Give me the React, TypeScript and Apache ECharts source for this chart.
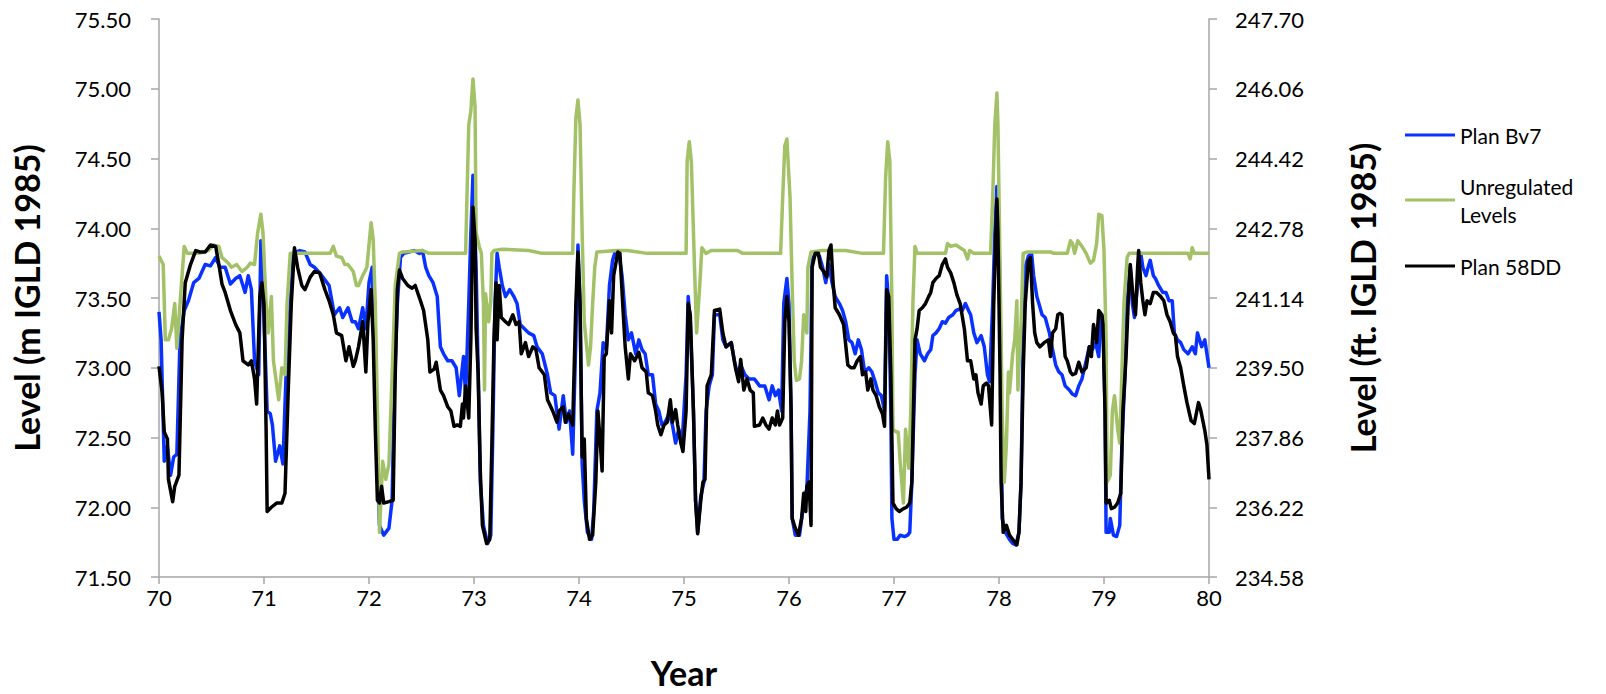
import React, { useEffect, useRef } from "react";
import * as echarts from "echarts";

const FONT = "Lato, 'Open Sans', sans-serif";

const yTicksMetres = [71.5, 72.0, 72.5, 73.0, 73.5, 74.0, 74.5, 75.0, 75.5];
const xTickYears = [70, 71, 72, 73, 74, 75, 76, 77, 78, 79, 80];
const FEET_PER_METRE = 3.28084;

const seriesNames = ["Plan Bv7", "Unregulated Levels", "Plan 58DD"];

const planBv7: [number, number][] = [
  [70.0, 73.4], [70.02, 73.2], [70.05, 72.33], [70.08, 72.44], [70.11, 72.23], [70.14, 72.36], [70.17, 72.38], [70.2, 73.2],
  [70.24, 73.41], [70.28, 73.48], [70.33, 73.61], [70.38, 73.64], [70.44, 73.74], [70.49, 73.73], [70.54, 73.79], [70.58, 73.72],
  [70.63, 73.72], [70.68, 73.6], [70.73, 73.64], [70.77, 73.66], [70.82, 73.54], [70.85, 73.66], [70.88, 73.56], [70.91, 73.05],
  [70.95, 72.95], [70.97, 73.91], [70.99, 73.59], [71.03, 72.69], [71.06, 72.67], [71.08, 72.59], [71.11, 72.33], [71.15, 72.44],
  [71.18, 72.31], [71.21, 72.95], [71.25, 73.46], [71.28, 73.82], [71.34, 73.84], [71.39, 73.83], [71.44, 73.74], [71.48, 73.72],
  [71.53, 73.68], [71.58, 73.63], [71.62, 73.59], [71.67, 73.38], [71.72, 73.43], [71.75, 73.36], [71.8, 73.43], [71.84, 73.33],
  [71.87, 73.33], [71.9, 73.28], [71.94, 73.43], [71.97, 73.28], [72.0, 73.61], [72.03, 73.72], [72.05, 73.2], [72.07, 72.44],
  [72.1, 71.87], [72.14, 71.8], [72.19, 71.85], [72.22, 72.05], [72.24, 72.82], [72.27, 73.46], [72.3, 73.79], [72.33, 73.82],
  [72.38, 73.83], [72.43, 73.84], [72.48, 73.82], [72.51, 73.84], [72.54, 73.72], [72.57, 73.66], [72.61, 73.61], [72.65, 73.51],
  [72.68, 73.15], [72.71, 73.1], [72.75, 73.05], [72.79, 73.05], [72.83, 73.0], [72.86, 72.8], [72.9, 73.08], [72.92, 72.8],
  [72.95, 73.46], [72.97, 73.97], [72.99, 74.38], [73.02, 73.72], [73.04, 72.95], [73.06, 72.18], [73.09, 71.87], [73.13, 71.74],
  [73.16, 71.8], [73.18, 72.56], [73.2, 73.46], [73.22, 73.82], [73.24, 73.72], [73.27, 73.59], [73.3, 73.51], [73.34, 73.56],
  [73.38, 73.51], [73.41, 73.46], [73.44, 73.31], [73.48, 73.28], [73.52, 73.25], [73.57, 73.23], [73.6, 73.15], [73.65, 73.1],
  [73.7, 72.95], [73.73, 72.82], [73.77, 72.8], [73.81, 72.56], [73.85, 72.8], [73.88, 72.61], [73.91, 72.69], [73.94, 72.38],
  [73.97, 73.2], [73.99, 73.88], [74.01, 73.46], [74.03, 72.31], [74.05, 72.05], [74.08, 71.82], [74.12, 71.77], [74.14, 71.97],
  [74.17, 72.69], [74.2, 72.82], [74.23, 73.18], [74.26, 73.13], [74.29, 73.59], [74.32, 73.77], [74.34, 73.82], [74.38, 73.82],
  [74.41, 73.66], [74.44, 73.38], [74.47, 73.2], [74.5, 73.25], [74.54, 73.1], [74.57, 73.2], [74.6, 73.13], [74.63, 73.1],
  [74.66, 72.95], [74.7, 72.95], [74.73, 72.74], [74.76, 72.69], [74.79, 72.59], [74.82, 72.61], [74.86, 72.67], [74.89, 72.59],
  [74.92, 72.46], [74.95, 72.56], [74.98, 72.44], [75.02, 72.95], [75.04, 73.51], [75.06, 73.33], [75.09, 72.69], [75.11, 72.05],
  [75.13, 71.82], [75.16, 72.08], [75.19, 72.18], [75.21, 72.69], [75.24, 72.87], [75.27, 72.95], [75.29, 73.38], [75.34, 73.38],
  [75.37, 73.2], [75.4, 73.15], [75.45, 73.18], [75.48, 73.05], [75.51, 72.95], [75.54, 73.02], [75.58, 72.95], [75.62, 72.92],
  [75.67, 72.92], [75.72, 72.87], [75.77, 72.87], [75.81, 72.77], [75.84, 72.87], [75.87, 72.8], [75.9, 72.84], [75.93, 72.69],
  [75.95, 73.46], [75.98, 73.64], [76.0, 73.46], [76.02, 72.69], [76.03, 71.92], [76.06, 71.8], [76.1, 71.8], [76.13, 71.97],
  [76.15, 72.08], [76.17, 72.13], [76.2, 72.69], [76.22, 73.77], [76.25, 73.82], [76.29, 73.8], [76.32, 73.72], [76.35, 73.61],
  [76.38, 73.74], [76.41, 73.61], [76.44, 73.51], [76.48, 73.46], [76.51, 73.41], [76.54, 73.33], [76.57, 73.2], [76.6, 73.18],
  [76.63, 73.1], [76.66, 73.2], [76.69, 73.13], [76.72, 72.97], [76.76, 73.0], [76.79, 72.97], [76.82, 72.9], [76.85, 72.82],
  [76.88, 72.8], [76.91, 72.69], [76.93, 73.66], [76.95, 73.46], [76.97, 72.69], [76.98, 71.92], [77.0, 71.77], [77.03, 71.77],
  [77.06, 71.8], [77.1, 71.79], [77.13, 71.8], [77.15, 71.82], [77.17, 72.18], [77.2, 72.95], [77.22, 73.2], [77.25, 73.1],
  [77.29, 73.05], [77.32, 73.1], [77.35, 73.13], [77.37, 73.23], [77.4, 73.25], [77.43, 73.28], [77.46, 73.33], [77.49, 73.32],
  [77.52, 73.36], [77.56, 73.38], [77.59, 73.41], [77.62, 73.42], [77.65, 73.41], [77.68, 73.46], [77.71, 73.41], [77.73, 73.38],
  [77.76, 73.25], [77.79, 73.18], [77.83, 73.23], [77.86, 73.15], [77.89, 72.95], [77.91, 72.9], [77.94, 73.46], [77.96, 73.97],
  [77.98, 74.3], [78.0, 73.97], [78.02, 72.95], [78.03, 71.92], [78.06, 71.82], [78.1, 71.77], [78.13, 71.74], [78.16, 71.73],
  [78.19, 71.82], [78.21, 72.18], [78.23, 73.2], [78.25, 73.72], [78.28, 73.8], [78.31, 73.82], [78.33, 73.66], [78.36, 73.51],
  [78.38, 73.46], [78.41, 73.38], [78.44, 73.36], [78.48, 73.25], [78.51, 73.13], [78.54, 73.02], [78.57, 72.97], [78.6, 72.95],
  [78.63, 72.87], [78.67, 72.84], [78.7, 72.81], [78.73, 72.8], [78.76, 72.87], [78.79, 72.92], [78.83, 73.05], [78.86, 73.15],
  [78.89, 73.13], [78.92, 73.18], [78.95, 73.08], [78.97, 73.38], [78.99, 73.36], [79.01, 72.69], [79.02, 71.82], [79.05, 71.82],
  [79.06, 71.92], [79.09, 71.8], [79.12, 71.79], [79.15, 71.87], [79.17, 72.44], [79.2, 72.95], [79.22, 73.46], [79.25, 73.72],
  [79.27, 73.46], [79.29, 73.36], [79.32, 73.59], [79.35, 73.82], [79.37, 73.72], [79.4, 73.66], [79.42, 73.72], [79.44, 73.77],
  [79.47, 73.66], [79.49, 73.64], [79.52, 73.59], [79.56, 73.54], [79.59, 73.54], [79.62, 73.48], [79.65, 73.48], [79.67, 73.25],
  [79.7, 73.2], [79.73, 73.18], [79.76, 73.13], [79.8, 73.1], [79.84, 73.15], [79.87, 73.1], [79.89, 73.25], [79.93, 73.15],
  [79.96, 73.2], [80.0, 73.0],
];

const unregulated: [number, number][] = [
  [70.0, 73.8], [70.04, 73.74], [70.06, 73.2], [70.09, 73.2], [70.12, 73.28], [70.15, 73.46], [70.17, 73.14], [70.21, 73.56],
  [70.24, 73.87], [70.27, 73.82], [70.32, 73.82], [70.38, 73.82], [70.47, 73.84], [70.52, 73.88], [70.57, 73.87], [70.6, 73.79],
  [70.66, 73.75], [70.69, 73.72], [70.74, 73.74], [70.79, 73.69], [70.84, 73.72], [70.87, 73.75], [70.91, 73.74], [70.94, 73.97],
  [70.97, 74.1], [70.99, 73.97], [71.02, 73.46], [71.04, 73.25], [71.07, 73.51], [71.09, 73.05], [71.14, 72.77], [71.17, 73.0],
  [71.2, 72.95], [71.22, 73.46], [71.25, 73.82], [71.31, 73.82], [71.45, 73.82], [71.63, 73.82], [71.66, 73.87], [71.69, 73.8],
  [71.74, 73.79], [71.77, 73.74], [71.8, 73.74], [71.85, 73.69], [71.88, 73.59], [71.9, 73.59], [71.94, 73.66], [71.98, 73.72],
  [72.02, 74.04], [72.04, 73.92], [72.06, 73.46], [72.08, 72.69], [72.1, 71.82], [72.13, 72.33], [72.16, 72.2], [72.19, 72.31],
  [72.22, 72.95], [72.25, 73.59], [72.29, 73.82], [72.32, 73.83], [72.51, 73.84], [72.57, 73.82], [72.92, 73.82], [72.95, 74.74],
  [72.97, 74.84], [72.99, 75.07], [73.01, 74.87], [73.02, 73.97], [73.05, 73.87], [73.07, 73.82], [73.09, 73.46], [73.1, 72.84],
  [73.11, 73.53], [73.14, 73.33], [73.16, 73.48], [73.17, 73.82], [73.19, 73.84], [73.27, 73.85], [73.52, 73.84], [73.65, 73.82],
  [73.94, 73.82], [73.95, 74.22], [73.97, 74.79], [73.99, 74.92], [74.01, 74.74], [74.03, 73.97], [74.05, 73.33], [74.09, 73.02],
  [74.11, 73.15], [74.13, 73.46], [74.15, 73.72], [74.17, 73.83], [74.36, 73.84], [74.46, 73.84], [74.65, 73.82], [75.02, 73.82],
  [75.03, 74.48], [75.05, 74.62], [75.07, 74.48], [75.1, 73.72], [75.12, 73.25], [75.15, 73.59], [75.17, 73.86], [75.21, 73.82],
  [75.26, 73.84], [75.51, 73.84], [75.56, 73.82], [75.92, 73.82], [75.94, 74.22], [75.96, 74.59], [75.98, 74.64], [76.01, 74.22],
  [76.03, 73.59], [76.05, 73.05], [76.07, 72.91], [76.1, 72.92], [76.12, 73.05], [76.14, 73.38], [76.17, 73.25], [76.18, 73.72],
  [76.21, 73.83], [76.32, 73.84], [76.54, 73.84], [76.7, 73.82], [76.9, 73.82], [76.92, 74.36], [76.94, 74.62], [76.96, 74.48],
  [76.98, 73.46], [76.99, 72.56], [77.02, 72.54], [77.04, 72.54], [77.06, 72.31], [77.09, 72.03], [77.11, 72.56], [77.14, 72.28],
  [77.16, 72.69], [77.18, 73.46], [77.2, 73.87], [77.22, 73.82], [77.49, 73.82], [77.51, 73.89], [77.54, 73.87], [77.59, 73.88],
  [77.63, 73.86], [77.67, 73.84], [77.7, 73.78], [77.72, 73.84], [77.76, 73.82], [77.92, 73.82], [77.94, 74.22], [77.96, 74.74],
  [77.98, 74.97], [77.99, 74.74], [78.01, 73.72], [78.03, 72.69], [78.05, 72.18], [78.07, 72.44], [78.09, 72.97], [78.1, 72.82],
  [78.13, 73.1], [78.15, 73.2], [78.17, 73.48], [78.18, 72.84], [78.21, 73.31], [78.23, 73.82], [78.27, 73.83], [78.49, 73.83],
  [78.52, 73.82], [78.65, 73.82], [78.68, 73.91], [78.7, 73.89], [78.72, 73.82], [78.75, 73.91], [78.79, 73.87], [78.83, 73.82],
  [78.87, 73.75], [78.9, 73.77], [78.93, 73.89], [78.95, 74.1], [78.98, 74.09], [79.0, 73.84], [79.02, 73.2], [79.03, 72.18],
  [79.06, 72.23], [79.08, 72.69], [79.1, 72.8], [79.13, 72.56], [79.15, 72.46], [79.17, 72.95], [79.19, 73.46], [79.22, 73.79],
  [79.24, 73.82], [79.8, 73.82], [79.82, 73.78], [79.84, 73.86], [79.86, 73.82], [80.0, 73.82],
];

const plan58DD: [number, number][] = [
  [70.0, 73.01], [70.03, 72.82], [70.05, 72.54], [70.08, 72.49], [70.09, 72.2], [70.13, 72.04], [70.15, 72.15], [70.19, 72.23],
  [70.22, 73.2], [70.25, 73.61], [70.3, 73.74], [70.35, 73.84], [70.39, 73.83], [70.44, 73.83], [70.49, 73.88], [70.54, 73.87],
  [70.57, 73.74], [70.6, 73.6], [70.63, 73.54], [70.68, 73.41], [70.73, 73.31], [70.77, 73.25], [70.8, 73.05], [70.85, 73.02],
  [70.88, 73.05], [70.91, 72.92], [70.93, 72.74], [70.96, 73.51], [70.98, 73.61], [71.0, 73.46], [71.02, 72.56], [71.03, 71.97],
  [71.07, 72.0], [71.12, 72.03], [71.17, 72.03], [71.2, 72.1], [71.23, 72.82], [71.26, 73.46], [71.29, 73.86], [71.32, 73.72],
  [71.36, 73.59], [71.39, 73.56], [71.44, 73.65], [71.48, 73.69], [71.53, 73.68], [71.58, 73.56], [71.62, 73.48], [71.66, 73.38],
  [71.69, 73.25], [71.74, 73.23], [71.78, 73.05], [71.81, 73.15], [71.85, 73.01], [71.87, 73.05], [71.9, 73.15], [71.94, 73.33],
  [71.97, 72.97], [71.99, 73.33], [72.02, 73.56], [72.04, 73.2], [72.06, 72.56], [72.08, 72.05], [72.1, 72.03], [72.12, 72.15],
  [72.14, 72.03], [72.19, 72.04], [72.23, 72.05], [72.25, 72.95], [72.27, 73.56], [72.29, 73.7], [72.32, 73.64], [72.37, 73.59],
  [72.41, 73.57], [72.44, 73.59], [72.49, 73.48], [72.52, 73.41], [72.56, 73.2], [72.58, 72.97], [72.62, 72.99], [72.64, 73.04],
  [72.68, 72.84], [72.71, 72.8], [72.75, 72.72], [72.78, 72.69], [72.81, 72.58], [72.84, 72.59], [72.87, 72.58], [72.89, 72.74],
  [72.9, 72.64], [72.92, 72.87], [72.95, 72.64], [72.97, 73.2], [72.99, 74.15], [73.01, 73.92], [73.02, 73.28], [73.04, 72.95],
  [73.06, 72.26], [73.08, 71.87], [73.12, 71.74], [73.15, 71.77], [73.17, 72.44], [73.19, 73.2], [73.21, 73.61], [73.22, 73.2],
  [73.24, 73.59], [73.26, 73.36], [73.3, 73.33], [73.33, 73.31], [73.37, 73.38], [73.4, 73.31], [73.43, 73.33], [73.45, 73.1],
  [73.49, 73.18], [73.52, 73.08], [73.56, 73.15], [73.59, 73.13], [73.62, 73.0], [73.67, 72.95], [73.7, 72.77], [73.75, 72.69],
  [73.79, 72.61], [73.81, 72.69], [73.85, 72.72], [73.87, 72.61], [73.9, 72.67], [73.94, 72.59], [73.97, 73.46], [73.99, 73.83],
  [74.01, 73.46], [74.03, 72.36], [74.05, 72.49], [74.07, 71.92], [74.1, 71.77], [74.13, 71.8], [74.16, 72.18], [74.18, 72.69],
  [74.2, 72.49], [74.22, 72.26], [74.24, 73.08], [74.26, 73.1], [74.29, 73.48], [74.31, 73.25], [74.33, 73.66], [74.37, 73.83],
  [74.39, 73.82], [74.42, 73.41], [74.44, 73.15], [74.47, 72.92], [74.49, 73.1], [74.53, 73.05], [74.57, 73.11], [74.6, 73.0],
  [74.64, 72.97], [74.66, 72.82], [74.7, 72.8], [74.73, 72.69], [74.75, 72.59], [74.78, 72.52], [74.81, 72.59], [74.84, 72.61],
  [74.87, 72.77], [74.89, 72.61], [74.92, 72.7], [74.94, 72.59], [74.97, 72.46], [74.99, 72.4], [75.02, 72.69], [75.04, 73.46],
  [75.06, 73.38], [75.09, 72.69], [75.11, 72.05], [75.13, 71.81], [75.16, 72.05], [75.18, 72.18], [75.2, 72.2], [75.22, 72.87],
  [75.26, 72.95], [75.29, 73.41], [75.34, 73.42], [75.37, 73.25], [75.4, 73.15], [75.45, 73.18], [75.49, 73.0], [75.52, 72.9],
  [75.54, 73.06], [75.57, 72.84], [75.6, 72.92], [75.63, 72.84], [75.66, 72.82], [75.67, 72.58], [75.72, 72.59], [75.75, 72.64],
  [75.78, 72.59], [75.81, 72.56], [75.84, 72.64], [75.87, 72.59], [75.89, 72.69], [75.91, 72.59], [75.94, 72.64], [75.96, 73.33],
  [75.98, 73.51], [76.0, 73.33], [76.02, 72.69], [76.03, 71.92], [76.06, 71.85], [76.09, 71.8], [76.12, 71.92], [76.14, 72.1],
  [76.16, 71.97], [76.17, 72.15], [76.19, 72.18], [76.21, 71.87], [76.22, 73.72], [76.25, 73.82], [76.28, 73.82], [76.3, 73.72],
  [76.33, 73.69], [76.36, 73.65], [76.38, 73.84], [76.4, 73.88], [76.42, 73.61], [76.44, 73.43], [76.48, 73.38], [76.52, 73.31],
  [76.56, 73.02], [76.59, 73.0], [76.62, 73.0], [76.65, 73.05], [76.68, 73.08], [76.7, 72.95], [76.73, 72.97], [76.75, 72.84],
  [76.78, 72.92], [76.8, 72.84], [76.83, 72.8], [76.86, 72.72], [76.89, 72.67], [76.91, 72.58], [76.93, 73.56], [76.95, 73.51],
  [76.97, 72.95], [76.99, 72.03], [77.02, 71.99], [77.05, 71.97], [77.09, 71.99], [77.12, 72.0], [77.15, 72.03], [77.17, 72.18],
  [77.2, 73.2], [77.22, 73.28], [77.24, 73.41], [77.27, 73.43], [77.3, 73.46], [77.33, 73.51], [77.35, 73.54], [77.37, 73.61],
  [77.4, 73.64], [77.43, 73.66], [77.46, 73.74], [77.49, 73.78], [77.51, 73.72], [77.54, 73.68], [77.57, 73.61], [77.6, 73.52],
  [77.63, 73.46], [77.67, 73.28], [77.7, 73.05], [77.73, 73.05], [77.76, 72.92], [77.78, 72.95], [77.8, 72.82], [77.83, 72.74],
  [77.85, 72.87], [77.88, 72.89], [77.9, 72.87], [77.93, 72.59], [77.95, 73.46], [77.97, 73.97], [77.98, 74.21], [77.99, 73.97],
  [78.01, 72.95], [78.02, 72.18], [78.04, 71.82], [78.07, 71.87], [78.1, 71.8], [78.13, 71.77], [78.17, 71.73], [78.19, 71.82],
  [78.21, 72.18], [78.23, 72.95], [78.25, 73.46], [78.28, 73.77], [78.3, 73.79], [78.32, 73.46], [78.34, 73.25], [78.36, 73.18],
  [78.39, 73.15], [78.43, 73.18], [78.47, 73.2], [78.49, 73.08], [78.51, 73.25], [78.54, 73.28], [78.56, 73.38], [78.58, 73.39],
  [78.6, 73.38], [78.63, 73.08], [78.65, 73.05], [78.68, 72.97], [78.7, 72.95], [78.73, 72.96], [78.76, 73.04], [78.79, 72.97],
  [78.83, 73.0], [78.86, 73.15], [78.88, 73.08], [78.9, 73.31], [78.93, 73.18], [78.95, 73.41], [78.98, 73.38], [78.99, 73.31],
  [79.01, 72.69], [79.02, 72.03], [79.05, 72.05], [79.07, 71.99], [79.1, 72.0], [79.13, 72.03], [79.16, 72.1], [79.18, 72.69],
  [79.21, 73.08], [79.23, 73.46], [79.25, 73.74], [79.28, 73.48], [79.3, 73.38], [79.32, 73.72], [79.33, 73.84], [79.35, 73.61],
  [79.37, 73.48], [79.39, 73.38], [79.41, 73.48], [79.44, 73.46], [79.47, 73.54], [79.5, 73.54], [79.54, 73.51], [79.57, 73.48],
  [79.6, 73.38], [79.63, 73.33], [79.66, 73.25], [79.68, 73.23], [79.7, 73.08], [79.73, 73.0], [79.76, 72.87], [79.79, 72.75],
  [79.83, 72.62], [79.86, 72.6], [79.9, 72.75], [79.92, 72.7], [79.96, 72.55], [79.98, 72.45], [80.0, 72.2],
];

const COLORS = ["#0a32ff", "#a3c167", "#000000"];

export default function App() {
  const ref = useRef<HTMLDivElement>(null);

  useEffect(() => {
    if (!ref.current) return;
    const chart = echarts.init(ref.current, undefined, { renderer: "svg" });
    const axisGray = "#a6a6a6";
    const yMin = yTicksMetres[0];
    const yMax = yTicksMetres[yTicksMetres.length - 1];
    const titleStyle = { fontFamily: FONT, fontSize: 34, fontWeight: "bold" as const, color: "#000" };
    const legendBase = {
      orient: "vertical" as const,
      left: 1405,
      itemWidth: 50,
      itemHeight: 3,
      icon: "rect",
      padding: 0,
      selectedMode: false,
      textStyle: { fontFamily: FONT, fontSize: 21, color: "#000", lineHeight: 28 },
    };
    chart.setOption({
      animation: false,
      backgroundColor: "#ffffff",
      grid: { left: 159, right: 397, top: 19, bottom: 105, containLabel: false },
      legend: [
        { ...legendBase, data: [seriesNames[0]], top: 121 },
        { ...legendBase, data: [seriesNames[1]], top: 172 },
        { ...legendBase, data: [seriesNames[2]], top: 252 },
      ].map((l, i) => (i === 1 ? { ...l, formatter: () => "Unregulated\nLevels" } : l)),
      xAxis: {
        type: "value",
        min: xTickYears[0],
        max: xTickYears[xTickYears.length - 1],
        interval: 1,
        name: "Year",
        nameLocation: "middle",
        nameGap: 78,
        nameTextStyle: titleStyle,
        axisLine: { show: true, lineStyle: { color: axisGray, width: 1.5 } },
        axisTick: { show: true, inside: false, length: 7, lineStyle: { color: axisGray, width: 1.5 } },
        axisLabel: { fontFamily: FONT, fontSize: 22, color: "#000", margin: 9 },
        splitLine: { show: false },
      },
      yAxis: [
        {
          type: "value",
          position: "left",
          min: yMin,
          max: yMax,
          interval: 0.5,
          name: "Level (m IGLD 1985)",
          nameLocation: "middle",
          nameGap: 116,
          nameRotate: 90,
          nameTextStyle: titleStyle,
          axisLine: { show: true, lineStyle: { color: axisGray, width: 1.5 } },
          axisTick: { show: true, inside: false, length: 8, lineStyle: { color: axisGray, width: 1.5 } },
          axisLabel: {
            fontFamily: FONT,
            fontSize: 22,
            color: "#000",
            margin: 28,
            formatter: (v: number) => v.toFixed(2),
          },
          splitLine: { show: false },
        },
        {
          type: "value",
          position: "right",
          min: yMin,
          max: yMax,
          interval: 0.5,
          name: "Level (ft. IGLD 1985)",
          nameLocation: "middle",
          nameGap: 136,
          nameRotate: 90,
          nameTextStyle: titleStyle,
          axisLine: { show: true, lineStyle: { color: axisGray, width: 1.5 } },
          axisTick: { show: true, inside: false, length: 8, lineStyle: { color: axisGray, width: 1.5 } },
          axisLabel: {
            fontFamily: FONT,
            fontSize: 22,
            color: "#000",
            margin: 26,
            formatter: (v: number) => (v * FEET_PER_METRE).toFixed(2),
          },
          splitLine: { show: false },
        },
      ],
      series: [
        { name: seriesNames[0], data: planBv7, color: COLORS[0] },
        { name: seriesNames[1], data: unregulated, color: COLORS[1] },
        { name: seriesNames[2], data: plan58DD, color: COLORS[2] },
      ].map((s) => ({
        type: "line",
        name: s.name,
        data: s.data,
        yAxisIndex: 0,
        showSymbol: false,
        symbol: "none",
        color: s.color,
        itemStyle: { color: s.color },
        lineStyle: { color: s.color, width: 3.5, join: "round" },
      })),
    });
    return () => chart.dispose();
  }, []);

  return (
    <div
      ref={ref}
      style={{ position: "fixed", left: 0, top: 0, width: 1606, height: 694, background: "#fff" }}
    />
  );
}
